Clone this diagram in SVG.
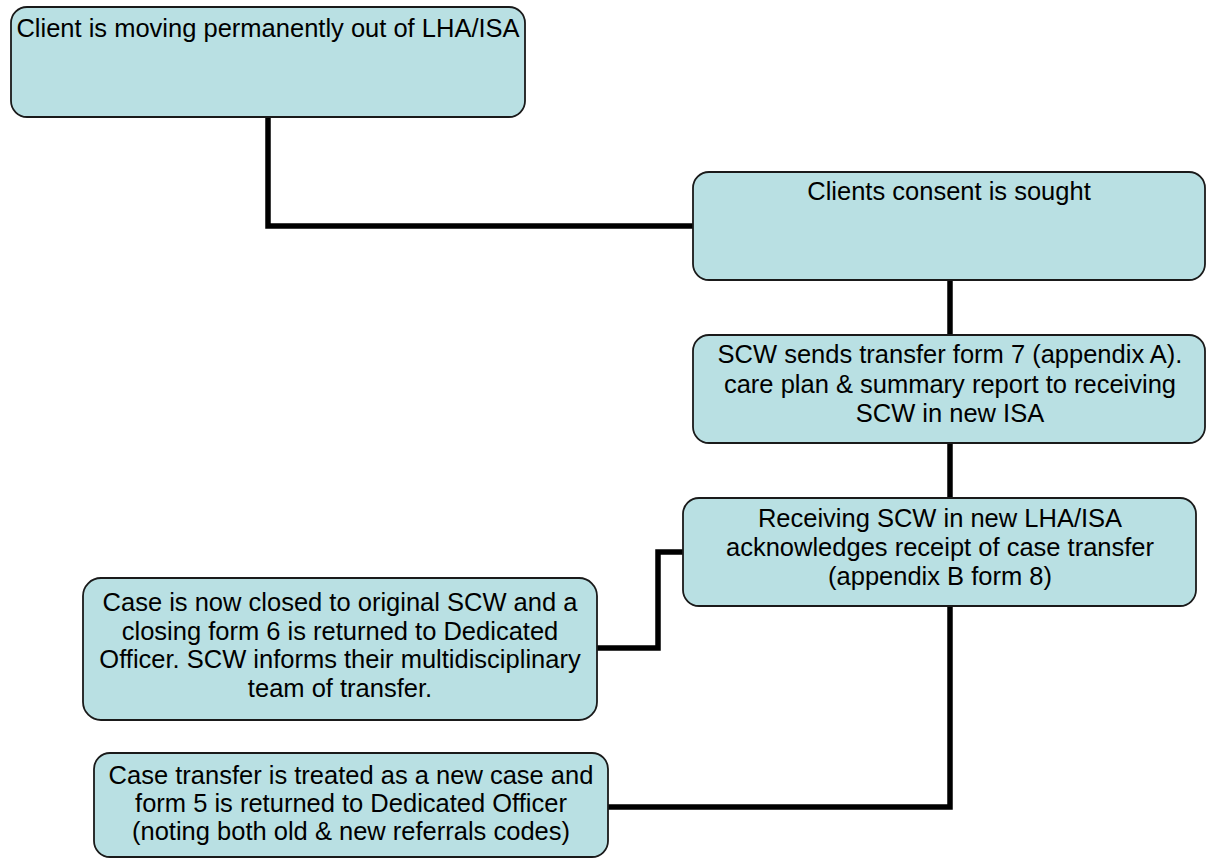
<svg xmlns="http://www.w3.org/2000/svg" width="1206" height="859" viewBox="0 0 1206 859">
<style>
.box{fill:#B9E0E3;stroke:#1a1a1a;stroke-width:1.8}
.t{font-family:"Liberation Sans",Arial,sans-serif;font-size:25.5px;fill:#000;text-anchor:middle}
.c{fill:none;stroke:#000;stroke-width:5.5;stroke-linejoin:miter}
</style>
<rect width="1206" height="859" fill="#fff"/>
<g id="connectors">
<path class="c" d="M268,117 V226 H693"/>
<path class="c" d="M950,280 V335"/>
<path class="c" d="M950,443 V498"/>
<path class="c" d="M597,648 H658 V552 H683"/>
<path class="c" d="M608,807 H950 V606"/>
</g>
<g id="n1">
<rect class="box" x="11" y="7" width="514" height="110" rx="16"/>
<text class="t" x="268" y="37">Client is moving permanently out of LHA/ISA</text>
</g>
<g id="n2">
<rect class="box" x="693" y="172" width="512" height="108" rx="16"/>
<text class="t" x="949" y="200">Clients consent is sought</text>
</g>
<g id="n3">
<rect class="box" x="693" y="335" width="512" height="108" rx="16"/>
<text class="t" x="950" y="363">SCW sends transfer form 7 (appendix A).</text>
<text class="t" x="950" y="393">care plan &amp; summary report to receiving</text>
<text class="t" x="950" y="422">SCW in new ISA</text>
</g>
<g id="n4">
<rect class="box" x="683" y="498" width="513" height="108" rx="16"/>
<text class="t" x="940" y="527">Receiving SCW in new LHA/ISA</text>
<text class="t" x="940" y="556">acknowledges receipt of case transfer</text>
<text class="t" x="940" y="585">(appendix B form 8)</text>
</g>
<g id="n5">
<rect class="box" x="83" y="578" width="514" height="142" rx="18"/>
<text class="t" x="340" y="611">Case is now closed to original SCW and a</text>
<text class="t" x="340" y="640">closing form 6 is returned to Dedicated</text>
<text class="t" x="340" y="668">Officer. SCW informs their multidisciplinary</text>
<text class="t" x="340" y="697">team of transfer.</text>
</g>
<g id="n6">
<rect class="box" x="94" y="753" width="514" height="104" rx="16"/>
<text class="t" x="351" y="784">Case transfer is treated as a new case and</text>
<text class="t" x="351" y="812">form 5 is returned to Dedicated Officer</text>
<text class="t" x="351" y="840">(noting both old &amp; new referrals codes)</text>
</g>
</svg>
